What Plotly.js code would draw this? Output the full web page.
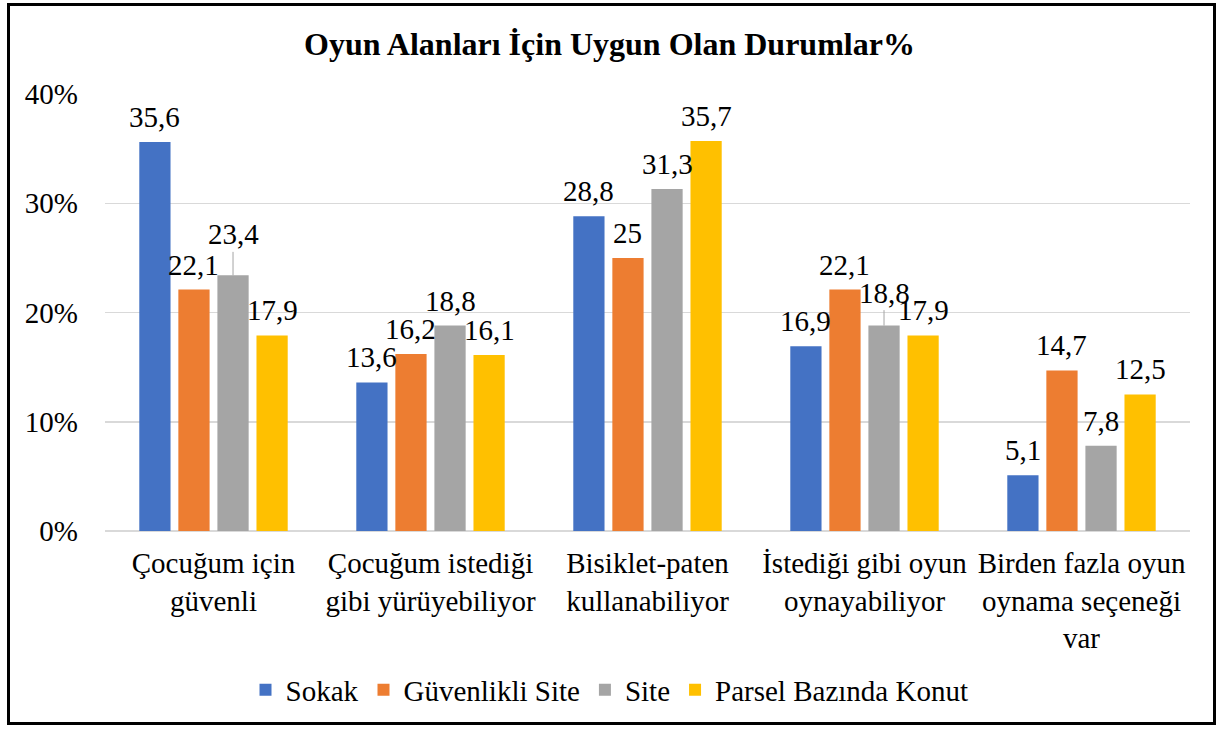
<!DOCTYPE html>
<html>
<head>
<meta charset="utf-8">
<script src="https://cdn.plot.ly/plotly-3.0.1.min.js"></script>
<style>
  html, body { margin: 0; padding: 0; background: #fff; }
  #wrap { position: relative; width: 1219px; height: 729px; }
  #chart { position: absolute; left: 0; top: 0; width: 1219px; height: 729px; }
  #frame { position: absolute; left: 7px; top: 3px; width: 1209px; height: 722px;
           border: 3px solid #000; box-sizing: border-box; pointer-events: none; }
</style>
</head>
<body>
<div id="wrap"><div id="chart"></div><div id="frame"></div></div>
<script>
const categories = [
  "Çocuğum için<br>güvenli",
  "Çocuğum istediği<br>gibi yürüyebiliyor",
  "Bisiklet-paten<br>kullanabiliyor",
  "İstediği gibi oyun<br>oynayabiliyor",
  "Birden fazla oyun<br>oynama seçeneği<br>var"
];
const seriesNames = ["Sokak", "Güvenlikli Site", "Site", "Parsel Bazında Konut"];
const sokak = [35.6, 13.6, 28.8, 16.9, 5.1];
const guvenlikliSite = [22.1, 16.2, 25, 22.1, 14.7];
const site = [23.4, 18.8, 31.3, 18.8, 7.8];
const parsel = [17.9, 16.1, 35.7, 17.9, 12.5];
const yTicks = [0, 10, 20, 30, 40];
const colors = ["#4472C4", "#ED7D31", "#A5A5A5", "#FFC000"];

const FONT = 'Liberation Serif, Times New Roman, serif';
const allSeries = [sokak, guvenlikliSite, site, parsel];
const bargap = 0.28;
const FS = 29;

const traces = allSeries.map((vals, s) => ({
  type: 'bar',
  name: seriesNames[s],
  x: categories,
  y: vals,
  marker: { color: colors[s] },
  hoverinfo: 'skip'
}));

// labels moved up with a leader line: "series-category" -> offset px
const leader = { "2-0": 41, "2-3": 33 };
const fmt = v => String(v).replace('.', ',');
const slot = (1 - bargap) / 4;
const annotations = [];
allSeries.forEach((vals, s) => {
  vals.forEach((v, c) => {
    const xpos = c + (s - 1.5) * slot;
    const key = s + '-' + c;
    if (leader[key]) {
      annotations.push({
        x: xpos, y: v, xref: 'x', yref: 'y',
        text: fmt(v), showarrow: true, arrowhead: 0, arrowwidth: 1,
        arrowcolor: '#A5A5A5', ax: 0, ay: -leader[key], standoff: 0,
        font: { family: FONT, size: FS, color: '#000' }
      });
    } else {
      annotations.push({
        x: xpos, y: v, xref: 'x', yref: 'y',
        text: fmt(v), showarrow: false, yanchor: 'middle', yshift: 25,
        font: { family: FONT, size: FS, color: '#000' }
      });
    }
  });
});

const layout = {
  width: 1219, height: 729,
  paper_bgcolor: '#fff', plot_bgcolor: '#fff',
  margin: { l: 105, r: 29, t: 94, b: 198 },
  font: { family: FONT, size: FS, color: '#000' },
  title: {
    text: '<b>Oyun Alanları İçin Uygun Olan Durumlar%</b>',
    font: { family: FONT, size: 32, color: '#000' },
    x: 0.5, xref: 'container', xanchor: 'center',
    y: 1 - 44 / 729, yref: 'container', yanchor: 'middle'
  },
  barmode: 'group', bargap: bargap, bargroupgap: 0.2,
  xaxis: {
    type: 'category',
    tickfont: { family: FONT, size: FS, color: '#000' },
    showgrid: false, showline: false, ticks: '',
    ticklabelstandoff: 12
  },
  yaxis: {
    range: [0, 40], tickvals: yTicks, ticktext: yTicks.map(t => t + '%'),
    tickfont: { family: FONT, size: FS, color: '#000' },
    showgrid: true, gridcolor: '#D9D9D9', gridwidth: 1.5,
    zeroline: true, zerolinecolor: '#D9D9D9', zerolinewidth: 1.5,
    showline: false, ticks: '', ticklabelstandoff: 26, fixedrange: true
  },
  showlegend: true,
  legend: {
    orientation: 'h', xref: 'container', yref: 'container',
    x: 0.5, xanchor: 'center', y: 1 - 690 / 729, yanchor: 'middle',
    font: { family: FONT, size: FS, color: '#000' },
    itemclick: false, itemdoubleclick: false
  },
  annotations: annotations
};

Plotly.newPlot('chart', traces, layout, { displayModeBar: false, staticPlot: true });
</script>
</body>
</html>
